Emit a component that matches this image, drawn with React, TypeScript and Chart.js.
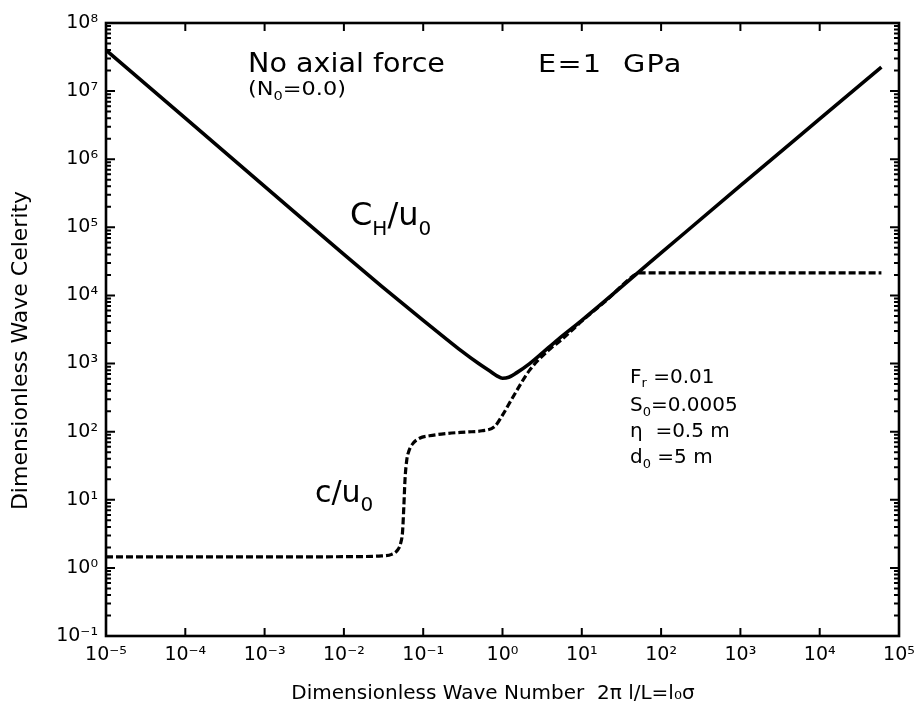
import React, { useEffect, useRef } from "react";
import { Chart, registerables } from "chart.js";

Chart.register(...registerables);

const FONT = "'DejaVu Sans', 'Liberation Sans', sans-serif";

// C_H / u0 (solid curve)
const waveNumberCH = [1e-5, 1e-4, 1e-3, 1e-2, 3e-2, 0.1, 0.2, 0.3, 0.5, 0.7, 0.85, 1.0, 1.2, 1.5, 2.2, 3, 5, 10, 100, 1000, 1e4, 6.0e4];
const celerityCH = [4.0e7, 4.0e6, 4.0e5, 4.0e4, 1.36e4, 4.3e3, 2.25e3, 1.55e3, 1.0e3, 7.7e2, 6.6e2, 6.1e2, 6.3e2, 7.3e2, 1.0e3, 1.35e3, 2.25e3, 4.3e3, 4.2e4, 4.1e5, 3.9e6, 2.25e7];

// c / u0 (dashed curve)
const waveNumberC = [1e-5, 1e-3, 1e-2, 0.03, 0.04, 0.047, 0.052, 0.055, 0.057, 0.059, 0.062, 0.066, 0.075, 0.09, 0.12, 0.2, 0.35, 0.55, 0.8, 1.0, 1.35, 2.2, 4.0, 5.6, 8.0, 10, 20, 50, 55, 6.0e4];
const celerityC = [1.45, 1.45, 1.46, 1.5, 1.58, 1.8, 2.3, 3.5, 8, 20, 38, 52, 68, 80, 87, 94, 99, 103, 120, 175, 320, 800, 1650, 2250, 3300, 4200, 8300, 2.1e4, 2.15e4, 2.15e4];

const xDecades = [1e-5, 1e-4, 1e-3, 1e-2, 1e-1, 1, 10, 100, 1e3, 1e4, 1e5];
const xTickLabels = ["10⁻⁵", "10⁻⁴", "10⁻³", "10⁻²", "10⁻¹", "10⁰", "10¹", "10²", "10³", "10⁴", "10⁵"];
const yDecades = [0.1, 1, 10, 100, 1e3, 1e4, 1e5, 1e6, 1e7, 1e8];
const yTickLabels = ["10⁻¹", "10⁰", "10¹", "10²", "10³", "10⁴", "10⁵", "10⁶", "10⁷", "10⁸"];

const xTitle = "Dimensionless Wave Number  2π l/L=l₀σ";
const yTitle = "Dimensionless Wave Celerity";

type Part = { t: string; sub?: boolean };

function drawRich(ctx: CanvasRenderingContext2D, x: number, y: number, parts: Part[], size: number, subSize: number, subDy: number, stretch = 1, spacing = 0) {
  ctx.save();
  ctx.translate(x, y);
  ctx.scale(stretch, 1);
  let cx = 0;
  for (const p of parts) {
    const s = p.sub ? subSize : size;
    ctx.font = `${s}px ${FONT}`;
    (ctx as any).letterSpacing = `${spacing}px`;
    ctx.fillText(p.t, cx, p.sub ? subDy : 0);
    cx += ctx.measureText(p.t).width;
  }
  (ctx as any).letterSpacing = "0px";
  ctx.restore();
}

const framePlugin = {
  id: "framePlugin",
  afterDraw(chart: any) {
    const { ctx, chartArea: a, scales } = chart;
    const xs = scales.x;
    const ys = scales.y;
    ctx.save();
    ctx.strokeStyle = "#000";
    ctx.fillStyle = "#000";
    ctx.lineWidth = 2.6;
    ctx.strokeRect(a.left, a.top, a.right - a.left, a.bottom - a.top);
    ctx.lineWidth = 2;
    ctx.beginPath();
    for (const v of xDecades) {
      const px = xs.getPixelForValue(v);
      ctx.moveTo(px, a.bottom);
      ctx.lineTo(px, a.bottom - 8);
      ctx.moveTo(px, a.top);
      ctx.lineTo(px, a.top + 8);
    }
    for (let e = -1; e <= 8; e++) {
      for (let m = 1; m <= 9; m++) {
        const v = m * Math.pow(10, e);
        if (v > 1e8 * 1.0001) break;
        const len = m === 1 ? 9 : 5;
        const py = ys.getPixelForValue(v);
        ctx.moveTo(a.left, py);
        ctx.lineTo(a.left + len, py);
        ctx.moveTo(a.right, py);
        ctx.lineTo(a.right - len, py);
      }
    }
    ctx.stroke();

    ctx.textBaseline = "alphabetic";
    ctx.textAlign = "left";
    const L = a.left;
    const T = a.top;
    drawRich(ctx, L + 142, T + 49, [{ t: "No axial force" }], 26, 16, 0, 1.1);
    drawRich(ctx, L + 142, T + 72, [{ t: "(N" }, { t: "0", sub: true }, { t: "=0.0)" }], 20, 13, 5, 1.12);
    drawRich(ctx, L + 432, T + 49, [{ t: "E=1  GPa" }], 24, 16, 0, 1.2, 1);
    drawRich(ctx, L + 244, T + 202, [{ t: "C" }, { t: "H", sub: true }, { t: "/u" }, { t: "0", sub: true }], 32, 20, 10);
    drawRich(ctx, L + 209, T + 479, [{ t: "c/u" }, { t: "0", sub: true }], 30, 20, 9);
    drawRich(ctx, L + 524, T + 360, [{ t: "F" }, { t: "r", sub: true }, { t: " =0.01" }], 20, 13, 4);
    drawRich(ctx, L + 524, T + 388, [{ t: "S" }, { t: "0", sub: true }, { t: "=0.0005" }], 20, 13, 5);
    drawRich(ctx, L + 524, T + 414, [{ t: "η" }, { t: "  =0.5 m" }], 20, 13, 5);
    drawRich(ctx, L + 524, T + 440, [{ t: "d" }, { t: "0", sub: true }, { t: " =5 m" }], 20, 13, 5);
    ctx.restore();
  },
};

export default function App() {
  const ref = useRef<HTMLCanvasElement | null>(null);

  useEffect(() => {
    const canvas = ref.current;
    if (!canvas) return;
    Chart.defaults.font.family = FONT;
    Chart.defaults.color = "#000";

    const chart = new Chart(canvas, {
      type: "scatter",
      data: {
        datasets: [
          {
            label: "C_H/u0",
            data: waveNumberCH.map((k, i) => ({ x: k, y: celerityCH[i] })),
            showLine: true,
            borderColor: "#000",
            borderWidth: 3.6,
            pointRadius: 0,
            cubicInterpolationMode: "monotone",
            fill: false,
          },
          {
            label: "c/u0",
            data: waveNumberC.map((k, i) => ({ x: k, y: celerityC[i] })),
            showLine: true,
            borderColor: "#000",
            borderWidth: 3.2,
            borderDash: [7, 3],
            pointRadius: 0,
            cubicInterpolationMode: "monotone",
            fill: false,
          },
        ],
      },
      options: {
        responsive: false,
        animation: false,
        events: [],
        layout: { padding: { top: 23, right: 15, bottom: 0, left: 0 } },
        plugins: { legend: { display: false }, tooltip: { enabled: false } },
        scales: {
          x: {
            type: "logarithmic",
            min: 1e-5,
            max: 1e5,
            grid: { display: false, drawTicks: false },
            border: { display: false },
            afterBuildTicks: (s: any) => {
              s.ticks = xDecades.map((v) => ({ value: v }));
            },
            afterFit: (s: any) => {
              s.height = 66;
              s.paddingLeft = 0;
              s.paddingRight = 0;
            },
            ticks: {
              autoSkip: false,
              maxRotation: 0,
              padding: 8,
              font: { size: 19, family: FONT },
              color: "#000",
              callback: (v: any) => {
                const i = xDecades.findIndex((d) => Math.abs(Math.log10(d) - Math.log10(Number(v))) < 1e-6);
                return i >= 0 ? xTickLabels[i] : "";
              },
            },
            title: {
              display: true,
              text: xTitle + "   ",
              font: { size: 20, family: FONT, lineHeight: 1 },
              padding: { top: 0, bottom: -2 },
              color: "#000",
            },
          },
          y: {
            type: "logarithmic",
            min: 0.1,
            max: 1e8,
            grid: { display: false, drawTicks: false },
            border: { display: false },
            afterBuildTicks: (s: any) => {
              s.ticks = yDecades.map((v) => ({ value: v }));
            },
            afterFit: (s: any) => {
              s.width = 106;
              s.paddingTop = 0;
              s.paddingBottom = 0;
            },
            ticks: {
              autoSkip: false,
              padding: 8,
              font: { size: 19, family: FONT },
              color: "#000",
              callback: (v: any) => {
                const i = yDecades.findIndex((d) => Math.abs(Math.log10(d) - Math.log10(Number(v))) < 1e-6);
                return i >= 0 ? yTickLabels[i] : "";
              },
            },
            title: {
              display: true,
              text: yTitle + "      ",
              font: { size: 22, family: FONT, lineHeight: 1 },
              padding: { top: 10, bottom: 0 },
              color: "#000",
            },
          },
        },
      },
      plugins: [framePlugin],
    } as any);

    return () => chart.destroy();
  }, []);

  return (
    <div style={{ position: "fixed", left: 0, top: 0, width: 914, height: 702, background: "#fff" }}>
      <canvas ref={ref} width={914} height={702} style={{ display: "block" }} />
    </div>
  );
}
